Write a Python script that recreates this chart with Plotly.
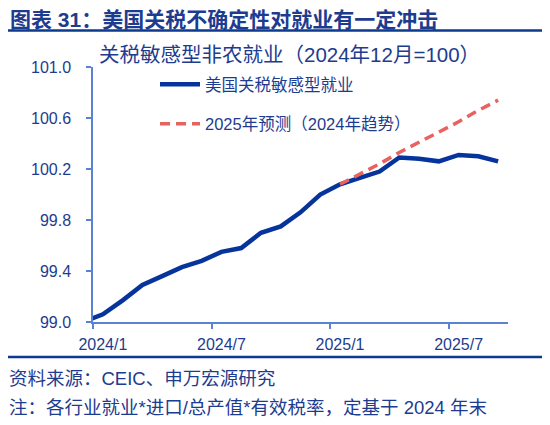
import plotly.graph_objects as go
import numpy as np

months = ['2023/12', '2024/1', '2024/2', '2024/3', '2024/4', '2024/5', '2024/6', '2024/7', '2024/8',
          '2024/9', '2024/10', '2024/11', '2024/12', '2025/1', '2025/2', '2025/3', '2025/4',
          '2025/5', '2025/6', '2025/7', '2025/8', '2025/9']
employment = [99.00, 99.06, 99.17, 99.29, 99.36, 99.43, 99.48, 99.55, 99.58, 99.70, 99.75,
              99.86, 100.00, 100.08, 100.13, 100.18, 100.29, 100.28, 100.26, 100.31, 100.30, 100.26]
forecast_months = ['2025/1', '2025/2', '2025/3', '2025/4', '2025/5', '2025/6', '2025/7', '2025/8', '2025/9']
forecast = [100.08, 100.16, 100.24, 100.33, 100.41, 100.49, 100.57, 100.66, 100.74]
tick_labels = ['2024/1', '2024/7', '2025/1', '2025/7']

NAVY = '#1D3C8F'
AXIS = '#5A84D2'
FONT = 'Liberation Sans, Noto Sans CJK SC'

# page body has an 8px margin, so the figure is drawn 8px in from the corner
OFF = 8
FW, FH = 550 - OFF, 425 - OFF
W0, W1, H0, H1 = 93, 508, 67, 322   # plot area in page pixels

# category position: 2024/1 sits at 0, 2023/12 only feeds the clipped lead-in
pos = {m: i - 1 for i, m in enumerate(months)}

fig = go.Figure()
fig.add_trace(go.Scatter(x=[pos[m] for m in months], y=employment, mode='lines',
                         name='美国关税敏感型就业', legendgroup='a',
                         line=dict(color='#06349C', width=4.5)))
fig.add_trace(go.Scatter(x=[pos[m] for m in forecast_months], y=forecast, mode='lines',
                         name='2025年预测（2024年趋势）', legendgroup='b',
                         line=dict(color='#E8625F', width=3.5, dash='10px,6px')))

fig.update_xaxes(range=[-0.5, 20.5], showgrid=False, zeroline=False,
                 showline=True, linecolor=AXIS, linewidth=1.5,
                 tickmode='array', tickvals=[pos[m] for m in tick_labels], ticktext=tick_labels,
                 ticks='', ticklabelstandoff=7, tickfont=dict(size=16, color=NAVY),
                 minor=dict(ticks='outside', tickmode='array',
                            tickvals=[pos[m] - 0.5 for m in tick_labels],
                            ticklen=5, tickcolor=AXIS, tickwidth=1.5))
fig.update_yaxes(range=[99.0, 101.0], dtick=0.4, tick0=99.0, tickformat='.1f',
                 showgrid=False, zeroline=False, showline=True, linecolor=AXIS, linewidth=1.5,
                 ticks='outside', ticklen=5, tickcolor=AXIS, tickwidth=1.5,
                 ticklabelstandoff=12, tickfont=dict(size=16, color=NAVY))


def px(x):
    return (x - W0) / (W1 - W0)


def py_(y):
    return (H1 - y) / (H1 - H0)


ann = [
    dict(text='<b>图表 31：美国关税不确定性对就业有一定冲击</b>', x=px(8), y=py_(19), size=21),
    dict(text='关税敏感型非农就业（2024年12月=100）', x=px(97), y=py_(55), size=20.5),
    dict(text='资料来源：CEIC、申万宏源研究', x=px(7), y=py_(378), size=18.5),
    dict(text='注：各行业就业*进口/总产值*有效税率，定基于 2024 年末', x=px(7), y=py_(407), size=18.5),
]
for a in ann:
    fig.add_annotation(text=a['text'], x=a['x'], y=a['y'], xref='paper', yref='paper',
                       xanchor='left', yanchor='middle', showarrow=False,
                       font=dict(size=a['size'], color=NAVY, family=FONT))

for yy in (30.5, 357):
    fig.add_shape(type='line', xref='paper', yref='paper', x0=px(8), x1=px(546),
                  y0=py_(yy), y1=py_(yy), line=dict(color='#0C3A8E', width=2.5))

fig.update_layout(
    width=FW, height=FH,
    margin=dict(l=W0 - OFF, r=550 - W1, t=H0 - OFF, b=425 - H1),
    paper_bgcolor='white', plot_bgcolor='white',
    font=dict(family=FONT, color=NAVY),
    showlegend=True,
    legend=dict(x=px(155), y=py_(67), xanchor='left', yanchor='top',
                traceorder='grouped', tracegroupgap=15, itemwidth=40,
                font=dict(size=16.5, color=NAVY), bgcolor='rgba(0,0,0,0)'),
)

fig.write_html('out.html')
